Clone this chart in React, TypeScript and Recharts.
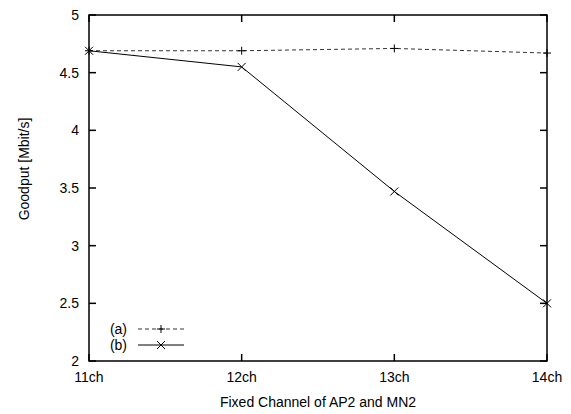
import { Legend, Line, LineChart, ReferenceArea, XAxis, YAxis } from "recharts";

const channels = ["11ch", "12ch", "13ch", "14ch"];
const seriesA = [4.69, 4.69, 4.71, 4.67];
const seriesB = [4.69, 4.55, 3.47, 2.5];
const yTicks = [2, 2.5, 3, 3.5, 4, 4.5, 5];

const data = channels.map((ch, i) => ({ ch, a: seriesA[i], b: seriesB[i] }));

const FONT = "'Liberation Sans', Arial, Helvetica, sans-serif";
const W = 571;
const H = 414;
const LEFT = 89;
const TOP = 15;
const RIGHT = 547;
const BOTTOM = 361;
const TICK = 7;

function XTick({ x, y, payload }: any) {
  return (
    <g>
      <line x1={x} y1={BOTTOM} x2={x} y2={BOTTOM - TICK} stroke="#000" strokeWidth={1.5} />
      <line x1={x} y1={TOP} x2={x} y2={TOP + TICK} stroke="#000" strokeWidth={1.5} />
      <text x={x} y={y + 21} textAnchor="middle" fontSize={14} fontFamily={FONT} fill="#000">
        {payload.value}
      </text>
    </g>
  );
}

function YTick({ x, y, payload }: any) {
  return (
    <g>
      <line x1={LEFT} y1={y} x2={LEFT + TICK} y2={y} stroke="#000" strokeWidth={1.5} />
      <line x1={RIGHT} y1={y} x2={RIGHT - TICK} y2={y} stroke="#000" strokeWidth={1.5} />
      <text x={x - 10} y={y + 5} textAnchor="end" fontSize={14} fontFamily={FONT} fill="#000">
        {payload.value}
      </text>
    </g>
  );
}

function PlusDot({ cx, cy }: any) {
  return (
    <g stroke="#000" strokeWidth={1}>
      <line x1={cx - 4} y1={cy} x2={cx + 4} y2={cy} />
      <line x1={cx} y1={cy - 4} x2={cx} y2={cy + 4} />
    </g>
  );
}

function CrossDot({ cx, cy }: any) {
  return (
    <g stroke="#000" strokeWidth={1}>
      <line x1={cx - 4} y1={cy - 4} x2={cx + 4} y2={cy + 4} />
      <line x1={cx - 4} y1={cy + 4} x2={cx + 4} y2={cy - 4} />
    </g>
  );
}

function KeyBox() {
  return (
    <svg width={100} height={36} style={{ display: "block" }}>
      <text x={39} y={12} textAnchor="end" fontSize={14} fontFamily={FONT} fill="#000">
        (a)
      </text>
      <line x1={50} y1={7} x2={96} y2={7} stroke="#333" strokeDasharray="4 3" />
      <PlusDot cx={73} cy={7} />
      <text x={39} y={28} textAnchor="end" fontSize={14} fontFamily={FONT} fill="#000">
        (b)
      </text>
      <line x1={50} y1={23} x2={96} y2={23} stroke="#000" />
      <CrossDot cx={73} cy={23} />
    </svg>
  );
}

export default function App() {
  return (
    <div style={{ position: "absolute", left: 0, top: 0, width: W, height: H, background: "#fff" }}>
      <LineChart width={W} height={H} data={data} margin={{ top: TOP, right: W - RIGHT, left: 0, bottom: 0 }}>
        <XAxis
          dataKey="ch"
          height={H - BOTTOM}
          axisLine={false}
          tickLine={false}
          tickSize={0}
          tickMargin={0}
          tick={<XTick />}
          interval={0}
          label={() => (
            <text x={318} y={407} textAnchor="middle" fontSize={14} fontFamily={FONT} fill="#000">
              Fixed Channel of AP2 and MN2
            </text>
          )}
        />
        <YAxis
          width={LEFT}
          domain={[2, 5]}
          ticks={yTicks}
          axisLine={false}
          tickLine={false}
          tickSize={0}
          tickMargin={0}
          tick={<YTick />}
          label={() => (
            <text
              x={29}
              y={169}
              transform="rotate(-90 29 169)"
              textAnchor="middle"
              fontSize={14}
              fontFamily={FONT}
              fill="#000"
            >
              Goodput [Mbit/s]
            </text>
          )}
        />
        <ReferenceArea
          x1="11ch"
          x2="14ch"
          y1={2}
          y2={5}
          fill="none"
          fillOpacity={0}
          stroke="#000"
          strokeWidth={1.5}
          ifOverflow="visible"
        />
        <Legend
          layout="horizontal"
          verticalAlign="middle"
          align="center"
          wrapperStyle={{ position: "absolute", left: 88, top: 322, width: 100, height: 36 }}
          content={() => <KeyBox />}
        />
        <Line
          dataKey="a"
          stroke="#333"
          strokeWidth={1}
          strokeDasharray="4 3"
          dot={<PlusDot />}
          activeDot={false}
          isAnimationActive={false}
        />
        <Line
          dataKey="b"
          stroke="#000"
          strokeWidth={1}
          dot={<CrossDot />}
          activeDot={false}
          isAnimationActive={false}
        />
      </LineChart>
    </div>
  );
}
